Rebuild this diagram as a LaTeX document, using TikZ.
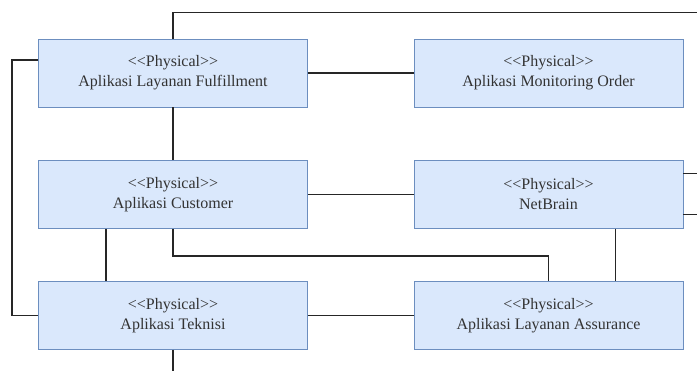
\documentclass[tikz,border=0pt]{standalone}
\usepackage{fontspec}
\setmainfont[Ligatures=NoCommon]{Liberation Serif}
\usetikzlibrary{positioning}
\definecolor{appfill}{HTML}{DAE8FC}
\definecolor{appline}{HTML}{6C8EBF}
\definecolor{linkcol}{HTML}{262626}
\definecolor{txtcol}{HTML}{333333}
\newcommand{\stereo}{{<}{<}Physical{>}{>}}
\begin{document}
\begin{tikzpicture}[x=1pt, y=-1pt,
  every node/.style={font=\fontsize{16}{20}\selectfont, text=txtcol},
  app/.style={draw=appline, fill=appfill, line width=0.9pt, minimum width=269pt, minimum height=68pt, align=center, inner sep=0pt},
  link/.style={draw=linkcol, line width=1.2pt}]
  \useasboundingbox (0,0) rectangle (697,371);
  \node[app] (fulfil) at (173,73) {\stereo\\Aplikasi Layanan Fulfillment};
  \node[app] (monitor) at (548.5,73) {\stereo\\Aplikasi Monitoring Order};
  \node[app] (customer) at (173,194.5) {\stereo\\Aplikasi Customer};
  \node[app] (netbrain) at (548.5,194.5) {\stereo\\NetBrain};
  \node[app] (teknisi) at (173,315.5) {\stereo\\Aplikasi Teknisi};
  \node[app] (assure) at (548.5,315.5) {\stereo\\Aplikasi Layanan Assurance};
  \coordinate (topright) at (697,12.5);
  \draw[link] (fulfil.north) |- (topright);
  \draw[link] (fulfil.east) -- (monitor.west);
  \draw[link] (fulfil.south) -- (customer.north);
  \draw[link] ([yshift=13pt]fulfil.west) -- ++(-26,0) |- (teknisi.west);
  \draw[link] (customer.east) -- (netbrain.west);
  \draw[link] ([xshift=-67pt]customer.south) -- ([xshift=-67pt]teknisi.north);
  \draw[link] (customer.south) -- ++(0,27) -| (assure.north);
  \draw[link] ([xshift=67pt]netbrain.south) -- ([xshift=67pt]assure.north);
  \draw[link] ([yshift=21pt]netbrain.east) -- ++(14,0);
  \draw[link] ([yshift=-20pt]netbrain.east) -- ++(14,0);
  \draw[link] (teknisi.east) -- (assure.west);
  \draw[link] (teknisi.south) -- ++(0,22);
\end{tikzpicture}
\end{document}
